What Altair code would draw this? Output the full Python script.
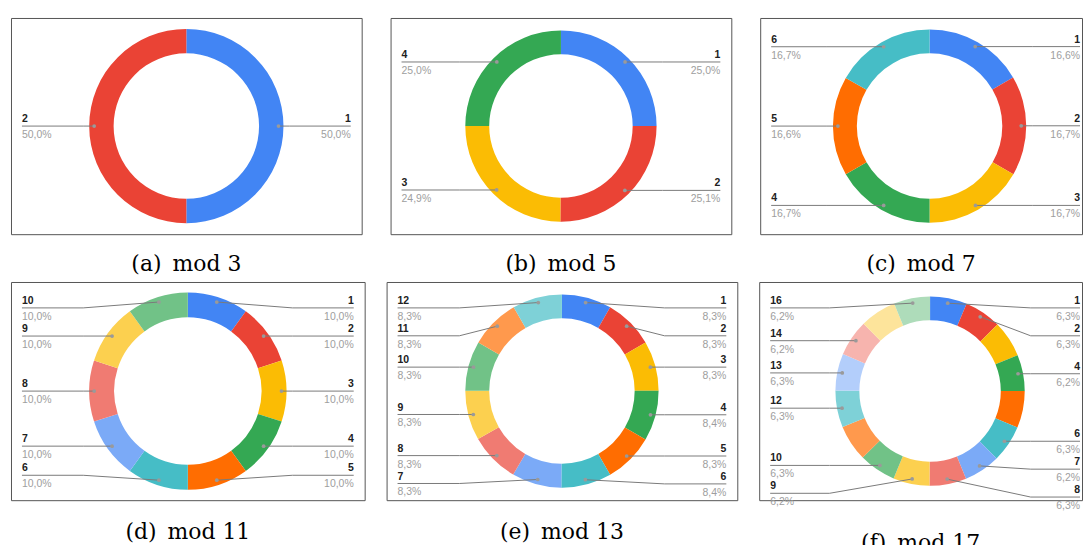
import math
import altair as alt
import pandas as pd

# ---------------- data ----------------
PALETTE = ["#4285F4", "#EA4335", "#FBBC04", "#34A853", "#FF6D01", "#46BDC6",
           "#7BAAF7", "#F07B72", "#FCD04F", "#71C287", "#FF994D", "#7ED1D7",
           "#B3CEFB", "#F7B4AE", "#FDE49B", "#AEDCBA"]

captions = ["(a)\u2002mod 3", "(b)\u2002mod 5", "(c)\u2002mod 7",
            "(d)\u2002mod 11", "(e)\u2002mod 13", "(f)\u2002mod 17"]

vals_mod3 = [50.0, 50.0]
vals_mod5 = [25.0, 25.1, 24.9, 25.0]
vals_mod7 = [16.6, 16.7, 16.7, 16.7, 16.6, 16.7]
vals_mod11 = [10.0, 10.0, 10.0, 10.0, 10.0, 10.0, 10.0, 10.0, 10.0, 10.0]
vals_mod13 = [8.3, 8.3, 8.3, 8.4, 8.3, 8.4, 8.3, 8.3, 8.3, 8.3, 8.3, 8.3]
vals_mod17 = [6.3, 6.3, 6.2, 6.2, 6.3, 6.3, 6.2, 6.3, 6.2, 6.3, 6.2, 6.3,
              6.3, 6.2, 6.2, 6.2]

# slice labels that the reference leaves out (no room)
hidden_mod17 = [3, 5, 11, 15]

series = [vals_mod3, vals_mod5, vals_mod7, vals_mod11, vals_mod13, vals_mod17]
hidden = [[], [], [], [], [], hidden_mod17]

# ---------------- layout / style ----------------
panel_layout = [
    dict(W=352, H=217, ro=97.5, ri=73, rm=11),
    dict(W=342, H=217, ro=96, ri=72, rm=11),
    dict(W=323, H=217, ro=97, ri=73, rm=2, cx=170),
    dict(W=355, H=219, ro=99, ri=74, rm=11),
    dict(W=352, H=219, ro=97, ri=73, rm=11),
    dict(W=324, H=219, ro=95, ri=71, rm=2, cx=171.5),
]
ROW_SPACING = [29, 22]
LABEL_FONT = "Liberation Sans"
CAPTION_FONT = "DejaVu Serif"


def fmt_pct(v):
    return f"{v:.1f}".replace(".", ",") + "%"


def build_panel(vals, hid, lay, caption, title_offset, name):
    W, H, ro, ri = lay["W"], lay["H"], lay["ro"], lay["ri"]
    cx, cy = lay.get("cx", W / 2.0), H / 2.0
    total = sum(vals)
    slices = pd.DataFrame({
        "idx": list(range(1, len(vals) + 1)),
        "value": vals,
        "color": PALETTE[:len(vals)],
        "cx": [cx] * len(vals),
        "cy": [cy] * len(vals),
    })

    r_dot = ro - 5
    items = []
    cum = 0.0
    for i, v in enumerate(vals):
        a0 = cum / total * 2 * math.pi
        cum += v
        a1 = cum / total * 2 * math.pi
        mid = (a0 + a1) / 2
        lab = i + 1
        if lab in hid:
            continue
        items.append(dict(lab=str(lab), pct=fmt_pct(v),
                          dx=cx + r_dot * math.sin(mid),
                          dy=cy - r_dot * math.cos(mid),
                          side="right" if mid < math.pi else "left"))
    top, bottom, gap = 26, H - 25, 28
    for side in ("right", "left"):
        grp = sorted([t for t in items if t["side"] == side], key=lambda t: t["dy"])
        ys = [min(max(t["dy"], top), bottom) for t in grp]
        for j in range(1, len(ys)):
            ys[j] = max(ys[j], ys[j - 1] + gap)
        for j in range(len(ys) - 2, -1, -1):
            ys[j] = min(ys[j], ys[j + 1] - gap)
        for t, y in zip(grp, ys):
            t["ly"] = y

    line_rows, dot_rows, text_rows = [], [], []
    for t in items:
        sgn = 1 if t["side"] == "right" else -1
        bend = cx + sgn * (ro + 6)
        end = W - lay["rm"] if t["side"] == "right" else 11
        line_rows += [dict(lab=t["lab"], k=0, x=t["dx"], y=t["dy"]),
                      dict(lab=t["lab"], k=1, x=bend, y=t["ly"]),
                      dict(lab=t["lab"], k=2, x=end, y=t["ly"])]
        dot_rows.append(dict(x=t["dx"], y=t["dy"]))
        text_rows.append(dict(lab=t["lab"], pct=t["pct"], x=end, y=t["ly"], side=t["side"]))

    xs = alt.Scale(domain=[0, W], range=[0, W], nice=False, zero=False)
    ys_ = alt.Scale(domain=[0, H], range=[0, H], nice=False, zero=False)
    X = alt.X("x:Q", scale=xs, axis=None)
    Y = alt.Y("y:Q", scale=ys_, axis=None)

    arc = alt.Chart(slices).mark_arc(innerRadius=ri, outerRadius=ro).encode(
        x=alt.X("cx:Q", scale=xs, axis=None),
        y=alt.Y("cy:Q", scale=ys_, axis=None),
        theta=alt.Theta("value:Q", stack=True),
        color=alt.Color("color:N", scale=None),
        order=alt.Order("idx:Q"),
    )
    lines = alt.Chart(pd.DataFrame(line_rows)).mark_line(
        color="#7a7a7a", strokeWidth=1, strokeJoin="round").encode(
        x=X, y=Y, detail="lab:N", order="k:Q")
    dots = alt.Chart(pd.DataFrame(dot_rows)).mark_circle(
        size=14, color="#9a9a9a", opacity=1).encode(x=X, y=Y)

    layers = [arc, lines, dots]
    tdf = pd.DataFrame(text_rows)
    for side in ("right", "left"):
        sub = tdf[tdf["side"] == side]
        if len(sub) == 0:
            continue
        layers.append(alt.Chart(sub).mark_text(
            align=side, baseline="alphabetic", dy=-4, font=LABEL_FONT,
            fontSize=10.5, fontWeight="bold", color="#212121").encode(
            x=X, y=Y, text="lab:N"))
        layers.append(alt.Chart(sub).mark_text(
            align=side, baseline="alphabetic", dy=12, font=LABEL_FONT,
            fontSize=10.5, color="#9e9e9e").encode(
            x=X, y=Y, text="pct:N"))

    return alt.layer(*layers, name=name).properties(
        width=W, height=H,
        title=alt.TitleParams(caption, orient="bottom", offset=title_offset,
                              frame="group",
                              font=CAPTION_FONT, fontSize=22,
                              fontWeight="normal", color="#000000",
                              anchor="middle", baseline="top"),
    )


offsets = [20, 20, 20, 22, 22, 22]
names = ["panel_a", "panel_b", "panel_c", "panel_d", "panel_e", "panel_f"]
panels = [build_panel(series[i], hidden[i], panel_layout[i], captions[i], offsets[i], names[i])
          for i in range(6)]

row1 = alt.hconcat(panels[0], panels[1], panels[2], spacing=ROW_SPACING[0], bounds="flush")
row2 = alt.hconcat(panels[3], panels[4], panels[5], spacing=ROW_SPACING[1], bounds="flush")

chart = alt.vconcat(row1, row2, spacing=5).properties(
    padding={"left": 2, "top": 8, "right": 0, "bottom": 0},
    background="white",
).configure_view(stroke="#555555", strokeWidth=1)

chart.save("out.html", embed_options={"renderer": "svg", "actions": False})
